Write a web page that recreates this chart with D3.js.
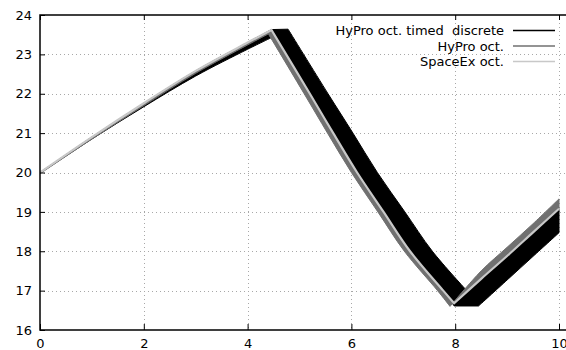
<!DOCTYPE html>
<html><head><meta charset="utf-8">
<script src="https://cdn.jsdelivr.net/npm/d3@7"></script>
<style>
body{margin:0;background:#fff}
svg{display:block}
text{font-family:"DejaVu Sans",sans-serif;font-size:13px;fill:#000;white-space:pre}
</style>
</head><body>
<svg id="chart" width="566" height="350"></svg>
<script>
// ---- data ----
const xTicks = [0, 2, 4, 6, 8, 10];
const yTicks = [16, 17, 18, 19, 20, 21, 22, 23, 24];
const seriesNames = ["HyPro oct. timed  discrete", "HyPro oct.", "SpaceEx oct."];
const seriesColors = ["#000000", "#707070", "#c8c8c8"];

// SpaceEx oct. : single trajectory line
const spaceExX = [0, 1, 2, 3, 4, 4.46, 5.2, 5.65, 6.11, 6.62, 7.13, 7.77, 7.98, 8.5, 9, 9.5, 10];
const spaceExY = [20, 20.9, 21.76, 22.58, 23.3, 23.62, 22, 21, 20, 19, 18, 17, 16.68, 17.3, 17.88, 18.48, 19.08];

// HyPro oct. : flowpipe outline (polygon)
const hyproOctX = [0, 1, 2, 3, 4, 4.46, 5.2, 5.65, 6.11, 6.62, 7.13, 7.77, 7.98, 8.5, 9, 9.5, 10,
                   10, 9.5, 9, 8.5, 7.9, 7.66, 7.02, 6.51, 6.0, 5.54, 5.09, 4.4, 4, 3, 2, 1, 0];
const hyproOctY = [20, 20.9, 21.76, 22.58, 23.3, 23.62, 22, 21, 20, 19, 18, 17, 16.68, 17.3, 17.88, 18.48, 19.08,
                   19.33, 18.7, 18.1, 17.5, 16.6, 17, 18, 19, 20, 21, 22, 23.52, 23.24, 22.52, 21.7, 20.85, 19.97];

// HyPro oct. timed discrete : flowpipe outline (polygon)
const hyproTimedX = [0, 1, 2, 3, 4, 4.46, 4.78, 5.55, 6.03, 6.5, 7.03, 7.56, 8.23, 8.5, 9, 9.5, 10,
                     10, 9.5, 9, 8.45, 7.98, 7.77, 7.13, 6.62, 6.11, 5.65, 5.2, 4.53, 4, 3, 2, 1, 0];
const hyproTimedY = [20, 20.9, 21.76, 22.58, 23.3, 23.63, 23.64, 22, 21, 20, 19, 18, 16.99, 17.3, 17.88, 18.48, 19.08,
                     18.47, 17.87, 17.27, 16.61, 16.61, 17, 18, 19, 20, 21, 22, 23.47, 23.13, 22.45, 21.67, 20.85, 19.98];

// ---- layout ----
const x = d3.scaleLinear().domain([0, 10]).range([40, 559]);
const y = d3.scaleLinear().domain([16, 24]).range([330, 15]);
const plotRight = 600; // plot frame continues past the cropped right edge

const svg = d3.select("#chart");

svg.append("defs").append("clipPath").attr("id", "clip")
  .append("rect").attr("x", 40).attr("y", 15).attr("width", plotRight - 40).attr("height", 315);

// grid
const grid = svg.append("g").attr("stroke", "#a8a8a8").attr("stroke-width", 1).attr("stroke-dasharray", "1,3");
grid.selectAll("line.gx").data(xTicks.filter(d => d > 0)).join("line")
  .attr("x1", d => Math.round(x(d)) + 0.5).attr("x2", d => Math.round(x(d)) + 0.5)
  .attr("y1", y(24)).attr("y2", y(16));
grid.selectAll("line.gy").data(yTicks.filter(d => d > 16 && d < 24)).join("line")
  .attr("x1", x(0)).attr("x2", plotRight)
  .attr("y1", d => Math.round(y(d)) + 0.5).attr("y2", d => Math.round(y(d)) + 0.5);

// smooth path through points, keeping sharp corners where direction changes strongly
function smoothPath(xs, ys, closed) {
  const pts = xs.map((v, i) => [x(v), y(ys[i])]);
  const n = pts.length;
  const isCorner = pts.map((p, i) => {
    if (i === 0 || i === n - 1) return true;
    const a = pts[i - 1], c = pts[i + 1];
    const a1 = Math.atan2(p[1] - a[1], p[0] - a[0]);
    const a2 = Math.atan2(c[1] - p[1], c[0] - p[0]);
    let d = Math.abs(a2 - a1); if (d > Math.PI) d = 2 * Math.PI - d;
    return d > 0.45;
  });
  const gen = d3.line().curve(d3.curveCatmullRom.alpha(0.5));
  let out = "", run = [pts[0]];
  for (let i = 1; i < n; i++) {
    run.push(pts[i]);
    if (isCorner[i]) {
      const s = run.length > 2 ? gen(run) : d3.line()(run);
      out += out === "" ? s : s.replace(/^M[^LC]*/, "");
      run = [pts[i]];
    }
  }
  return out + (closed ? "Z" : "");
}

// series
const plot = svg.append("g").attr("clip-path", "url(#clip)");
plot.append("path").attr("d", smoothPath(hyproTimedX, hyproTimedY, true))
  .attr("fill", seriesColors[0]).attr("stroke", seriesColors[0]).attr("stroke-width", 1);
plot.append("path").attr("d", smoothPath(hyproOctX, hyproOctY, true))
  .attr("fill", seriesColors[1]).attr("fill-rule", "nonzero").attr("stroke", seriesColors[1]).attr("stroke-width", 1);
plot.append("path").attr("d", smoothPath(spaceExX, spaceExY, false))
  .attr("fill", "none").attr("stroke", seriesColors[2]).attr("stroke-width", 2.2).attr("stroke-linejoin", "miter");

// border (left, top, bottom)
svg.append("path").attr("d", `M${plotRight},${y(24)}H${x(0)}V${y(16)}H${plotRight}`)
  .attr("stroke", "#000").attr("stroke-width", 1.5).attr("fill", "none");

// axes with inward ticks
const gxb = svg.append("g").attr("transform", `translate(0,${y(16)})`)
  .call(d3.axisBottom(x).tickValues(xTicks).tickSize(-6).tickPadding(8.5).tickFormat(d3.format("d")));
const gxt = svg.append("g").attr("transform", `translate(0,${y(24)})`)
  .call(d3.axisTop(x).tickValues(xTicks).tickSize(-5).tickFormat(""));
const gyl = svg.append("g").attr("transform", `translate(${x(0)},0)`)
  .call(d3.axisLeft(y).tickValues(yTicks).tickSize(-5).tickPadding(8).tickFormat(d3.format("d")));
[gxb, gxt, gyl].forEach(g => {
  g.select(".domain").remove();
  g.selectAll(".tick line").attr("stroke", "#000").attr("stroke-width", 1);
  g.selectAll("text").attr("font-family", '"DejaVu Sans",sans-serif').attr("font-size", 13).attr("fill", "#000");
});

// legend
const leg = svg.append("g");
const legRows = [30.5, 46, 61.5];
const legWidths = [1.5, 2, 1.5];
seriesNames.forEach((name, i) => {
  leg.append("text").attr("x", 504).attr("y", legRows[i]).attr("dy", "0.35em")
    .attr("text-anchor", "end").attr("xml:space", "preserve").text(name);
  leg.append("line").attr("x1", 513).attr("x2", 555).attr("y1", legRows[i]).attr("y2", legRows[i])
    .attr("stroke", seriesColors[i]).attr("stroke-width", legWidths[i]).attr("stroke-opacity", i === 1 ? 0.75 : 1);
});
</script>
</body></html>
